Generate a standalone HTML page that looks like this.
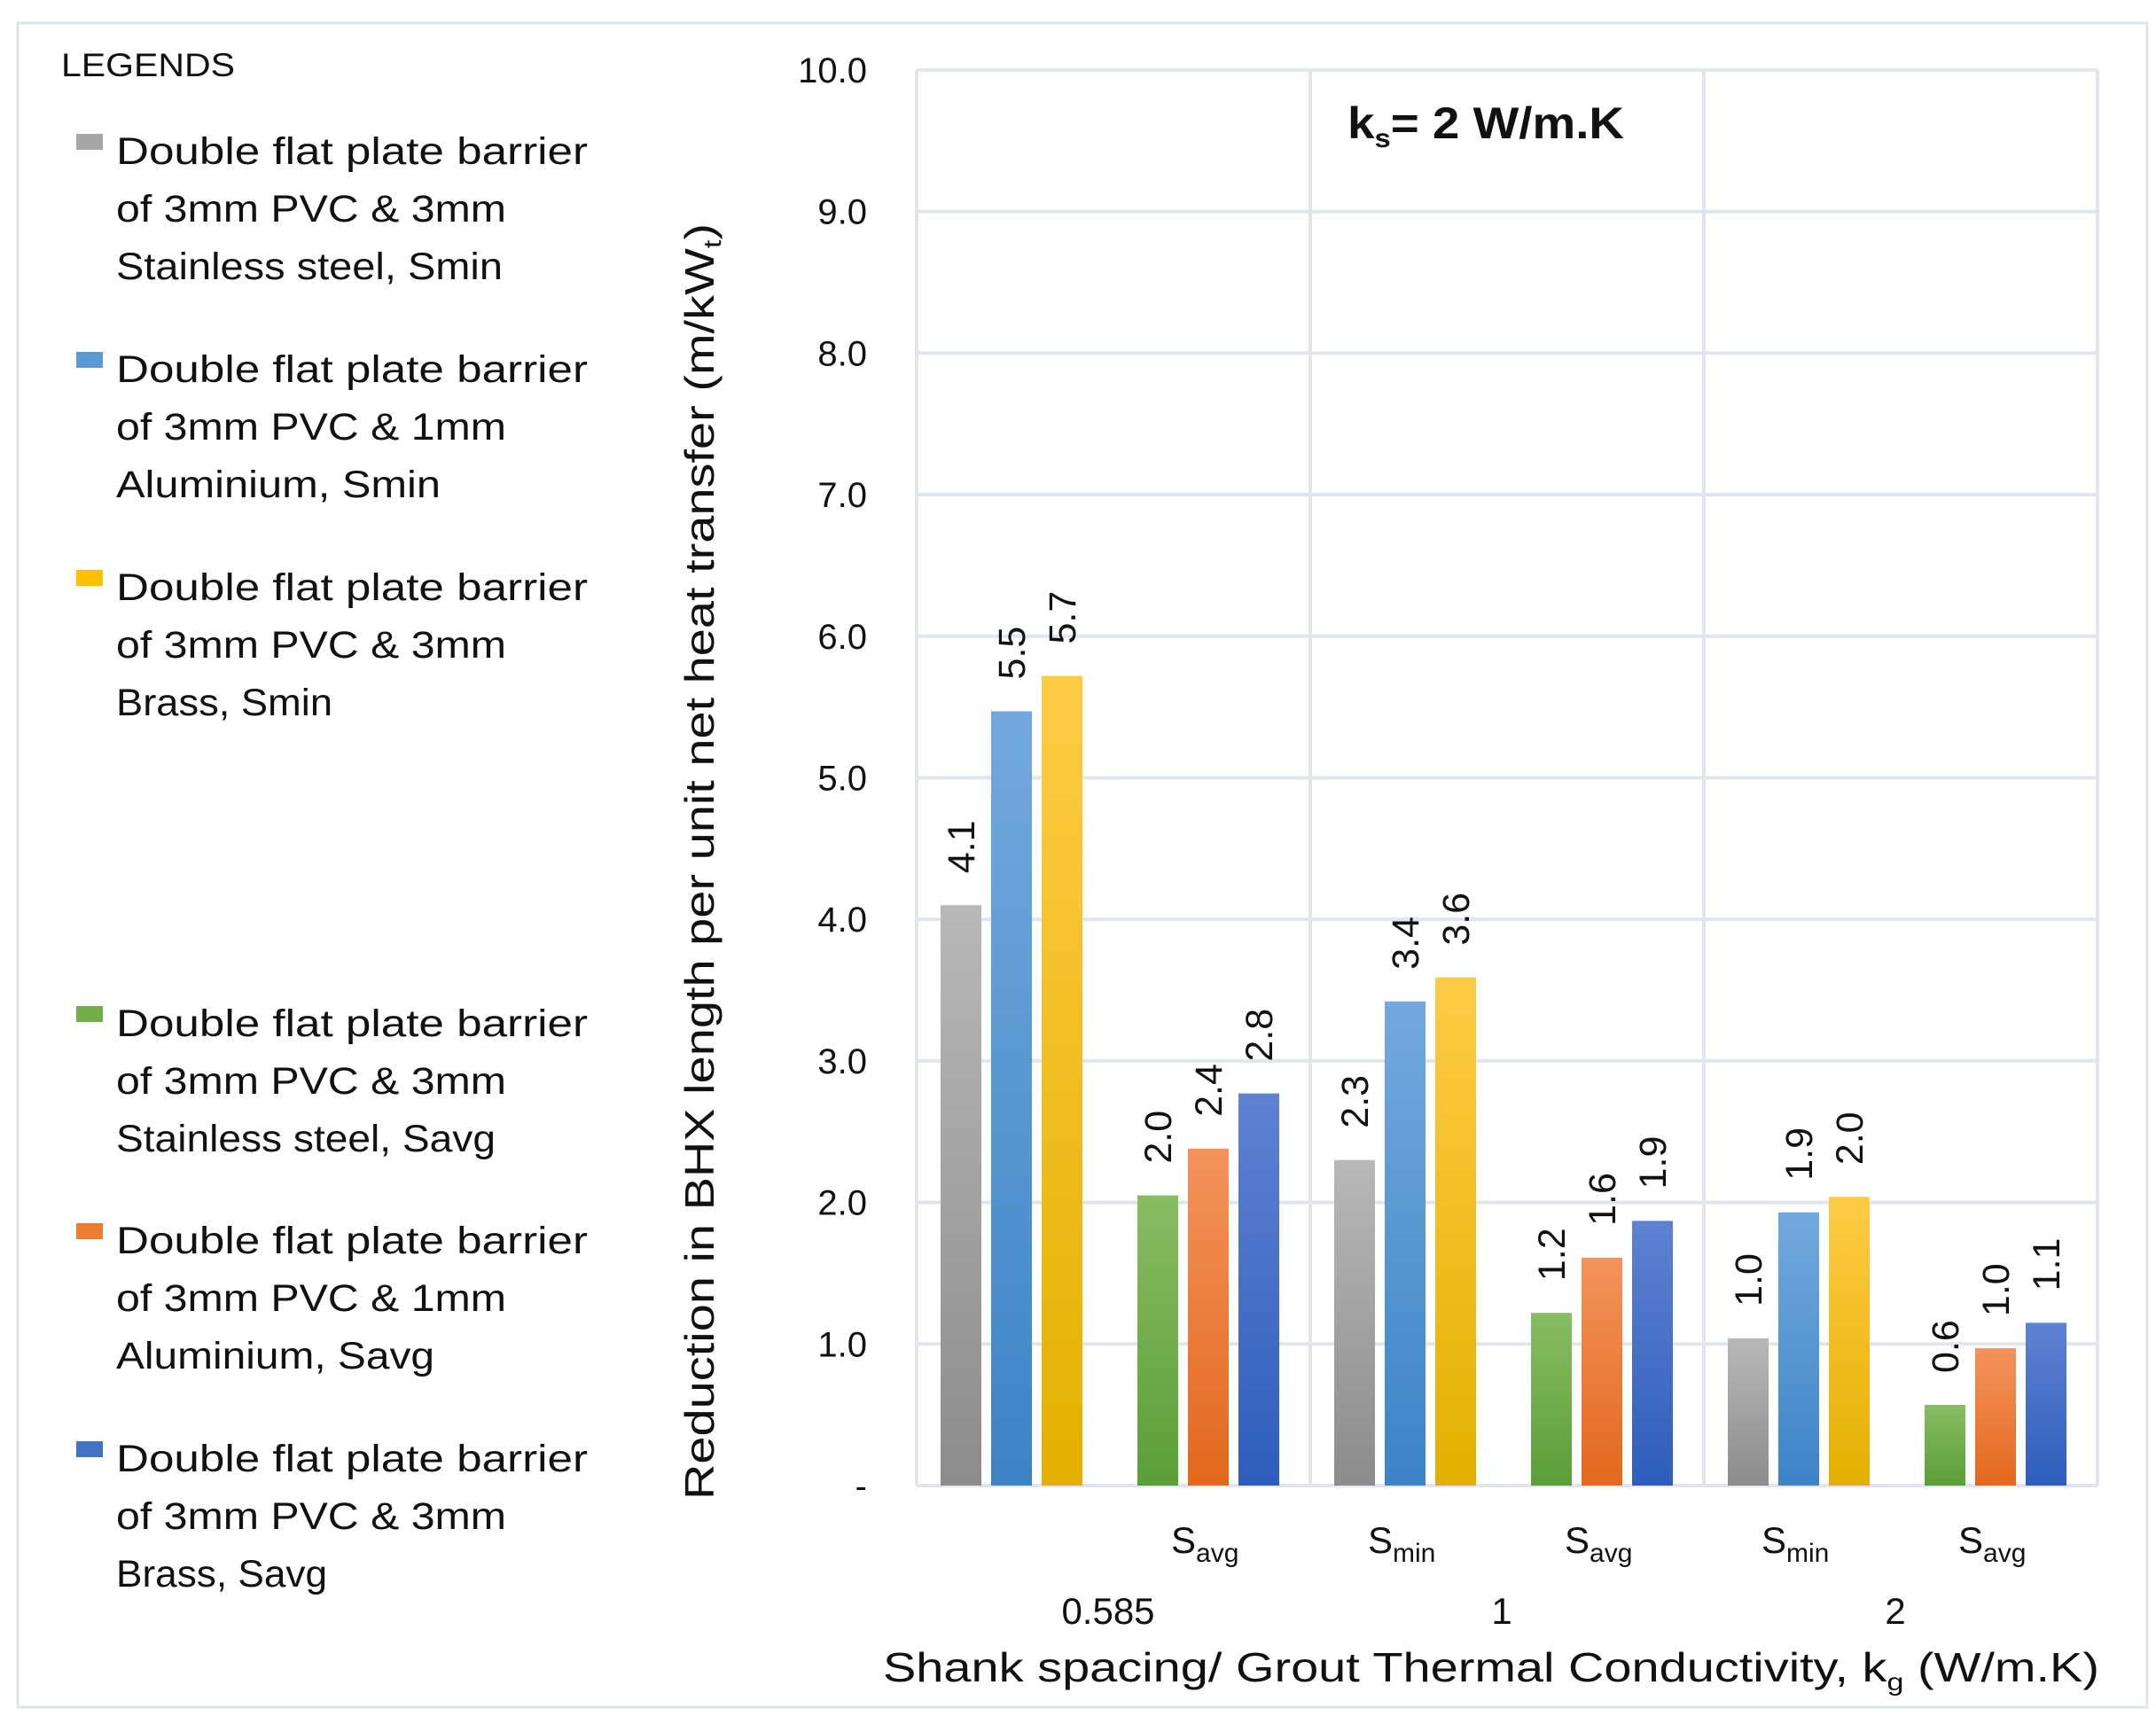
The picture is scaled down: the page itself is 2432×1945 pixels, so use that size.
<!DOCTYPE html>
<html><head><meta charset="utf-8"><style>
html,body{margin:0;padding:0;background:#fff}
svg{display:block}
text{font-family:"Liberation Sans","DejaVu Sans",sans-serif;fill:#111}
</style></head><body>
<svg id="chart" width="2432" height="1945" viewBox="0 0 2432 1945" xmlns="http://www.w3.org/2000/svg">
<defs>
<linearGradient id="g0" x1="0" y1="0" x2="0" y2="1"><stop offset="0" stop-color="#b8b8b8"/><stop offset="1" stop-color="#8c8c8c"/></linearGradient>
<linearGradient id="g1" x1="0" y1="0" x2="0" y2="1"><stop offset="0" stop-color="#73a9de"/><stop offset="1" stop-color="#3c84c6"/></linearGradient>
<linearGradient id="g2" x1="0" y1="0" x2="0" y2="1"><stop offset="0" stop-color="#ffcb45"/><stop offset="1" stop-color="#e3b000"/></linearGradient>
<linearGradient id="g3" x1="0" y1="0" x2="0" y2="1"><stop offset="0" stop-color="#88bd62"/><stop offset="1" stop-color="#5b9e37"/></linearGradient>
<linearGradient id="g4" x1="0" y1="0" x2="0" y2="1"><stop offset="0" stop-color="#f4935d"/><stop offset="1" stop-color="#e2681c"/></linearGradient>
<linearGradient id="g5" x1="0" y1="0" x2="0" y2="1"><stop offset="0" stop-color="#5f82d2"/><stop offset="1" stop-color="#2e5dbd"/></linearGradient>
</defs>
<rect x="20" y="26" width="2402" height="1900" fill="#fff" stroke="#dfe4ea" stroke-width="3"/>
<g id="grid"></g>
<g id="bars"></g>
<g id="labels"></g>
<g id="legend"></g>
<text x="1520" y="156" font-size="50" font-weight="bold" textLength="312" lengthAdjust="spacingAndGlyphs">k<tspan font-size="30" dy="10">s</tspan><tspan dy="-10">= 2 W/m.K</tspan></text>
<text transform="translate(805,1692) rotate(-90)" font-size="46" textLength="1440" lengthAdjust="spacingAndGlyphs">Reduction in BHX length per unit net heat transfer (m/kW<tspan font-size="28" dy="8">t</tspan><tspan dy="-8">)</tspan></text>
<text x="996" y="1897" font-size="46" textLength="1372" lengthAdjust="spacingAndGlyphs">Shank spacing/ Grout Thermal Conductivity,  k<tspan font-size="28" dy="10">g</tspan><tspan dy="-10"> (W/m.K)</tspan></text>
</svg>
<script>
const categories = ["Smin","Savg","Smin","Savg","Smin","Savg"];
const groupLabels = ["0.585","1","2"];
const seriesA = [4.1, 2.05, 2.3, 1.22, 1.04, 0.57];
const seriesB = [5.47, 2.38, 3.42, 1.61, 1.93, 0.97];
const seriesC = [5.72, 2.77, 3.59, 1.87, 2.04, 1.15];
const printedA = ["4.1","2.0","2.3","1.2","1.0","0.6"];
const printedB = ["5.5","2.4","3.4","1.6","1.9","1.0"];
const printedC = ["5.7","2.8","3.6","1.9","2.0","1.1"];
const yTicks = [0,1,2,3,4,5,6,7,8,9,10];
const yTickLabels = ["-","1.0","2.0","3.0","4.0","5.0","6.0","7.0","8.0","9.0","10.0"];
const legendTexts = [
 ["Double  flat plate barrier","of 3mm PVC & 3mm","Stainless steel, Smin"],
 ["Double  flat plate barrier","of 3mm PVC & 1mm","Aluminium, Smin"],
 ["Double  flat plate barrier","of 3mm PVC & 3mm","Brass, Smin"],
 ["Double  flat plate barrier","of 3mm PVC & 3mm","Stainless steel, Savg"],
 ["Double  flat plate barrier","of 3mm PVC & 1mm","Aluminium, Savg"],
 ["Double  flat plate barrier","of 3mm PVC & 3mm","Brass, Savg"]
];
const NS="http://www.w3.org/2000/svg";
const L=1034,R=2366,T=79,B=1676;
function y(v){return B-(v/10)*(B-T);}
const catW=(R-L)/categories.length;
function xc(i){return L+catW*(i+0.5)-4;}
function mk(tag,attrs,parent,txt){const e=document.createElementNS(NS,tag);for(const k in attrs)e.setAttribute(k,attrs[k]);if(txt!==undefined)e.textContent=txt;parent.appendChild(e);return e;}
const grid=document.getElementById('grid'),bars=document.getElementById('bars'),labels=document.getElementById('labels'),legend=document.getElementById('legend');
yTicks.forEach((t,i)=>{
 const ln=mk('line',{x1:L,x2:R,y1:y(t),y2:y(t),stroke:'#e1e5ec','stroke-width':4},grid);
 
 
 const tx=mk('text',{x:978,y:y(t)+14,'font-size':40,'text-anchor':'end'},labels,yTickLabels[i]);
 
 
});
for(let g=0;g<=groupLabels.length;g++){
 const x=L+g*2*catW;
 const ln=mk('line',{x1:x,x2:x,y1:T,y2:B,stroke:'#e1e5ec','stroke-width':4},grid);
 
 
}
const series=[[seriesA,printedA],[seriesB,printedB],[seriesC,printedC]];
const bw=46,step=57;
categories.forEach((c,i)=>{
 series.forEach((s,k)=>{
  const v=s[0][i];
  const grad=(i%2===0)?k:k+3;
  const x=xc(i)+(k-1)*step-bw/2;
  const r=mk('rect',{x:x,y:y(v),width:bw,height:B-y(v),fill:'url(#g'+grad+')'},bars);
  
  
  const cx=x+bw/2+15, ty=y(v)-36;
  const t=mk('text',{transform:'translate('+cx+','+ty+') rotate(-90)','font-size':43},labels,s[1][i]);
  
  
 });
 if(i>0){
  const t=mk('text',{x:xc(i)-42,y:1752,'font-size':42},labels);
  
  
  t.textContent='S';
  mk('tspan',{'font-size':30,dy:10},t,c==='Smin'?'min':'avg');
 }
});
groupLabels.forEach((g,j)=>{
 const t=mk('text',{x:L+catW*(2*j+1)-6,y:1832,'font-size':42,'text-anchor':'middle'},labels,g);
 
 
});
const lh=mk('text',{x:69,y:86,'font-size':37,textLength:196,lengthAdjust:'spacingAndGlyphs'},legend,'LEGENDS');


const entryY=[171,417,663,1155,1400,1646];
const swatch=['#a6a6a6','#5b9bd5','#ffc000','#70ad47','#ed7d31','#4472c4'];
const thirdW=[436,366,244,428,359,238];
legendTexts.forEach((lines,i)=>{
 const r=mk('rect',{x:86,y:entryY[i]-20,width:30,height:18,fill:swatch[i]},legend);
 
 
 lines.forEach((ln,j)=>{
  const w=j===0?532:(j===1?440:thirdW[i]);
  const a={x:131,y:entryY[i]+j*65+14,'font-size':43,textLength:w,lengthAdjust:'spacingAndGlyphs'};
  const t=mk('text',a,legend,ln);
  
  
 });
});
</script>
</body></html>
